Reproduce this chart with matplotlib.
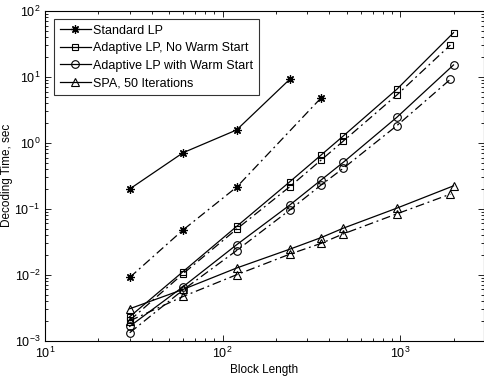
import matplotlib
matplotlib.use("Agg")
import matplotlib.pyplot as plt

plt.rcParams['font.family'] = ['Liberation Sans', 'DejaVu Sans']
plt.rcParams['mathtext.fontset'] = 'custom'
plt.rcParams['mathtext.rm'] = 'Liberation Sans'

# Standard LP
std_x_solid = [30, 60, 120, 240]
std_y_solid = [0.20, 0.71, 1.57, 9.3]
std_x_dash = [30, 60, 120, 360]
std_y_dash = [0.0091, 0.048, 0.213, 4.85]

# Adaptive LP, no warm start
blk_x_solid = [30, 60, 120, 240, 360, 480, 960, 2000]
blk_x_dash = [30, 60, 120, 240, 360, 480, 960, 1920]
alp_y_solid = [0.00231, 0.0112, 0.054, 0.259, 0.658, 1.28, 6.52, 46.9]
alp_y_dash = [0.00203, 0.0104, 0.0492, 0.218, 0.552, 1.07, 5.34, 30.5]

# Adaptive LP with warm start
aws_y_solid = [0.00165, 0.0066, 0.0285, 0.115, 0.275, 0.51, 2.45, 15.2]
aws_y_dash = [0.00132, 0.0059, 0.0233, 0.0966, 0.231, 0.414, 1.83, 9.2]

# SPA, 50 iterations
spa_y_solid = [0.00305, 0.0060, 0.01265, 0.0245, 0.0367, 0.051, 0.1025, 0.223]
spa_y_dash = [0.0020, 0.00469, 0.0100, 0.0206, 0.030, 0.0418, 0.084, 0.167]

labels = ["Standard LP", "Adaptive LP, No Warm Start",
          "Adaptive LP with Warm Start", "SPA, 50 Iterations"]

fig = plt.figure(figsize=(4.85, 3.76), dpi=100)
ax = fig.add_axes([45/485, 1-340.7/376, (484-45)/485, (340.7-11)/376])

lw = 0.9
dd = (0, (7, 3, 1.5, 3))
common = dict(color='black', lw=lw, mfc='none', mec='black', mew=0.8)
ast = (8, 2, 0)

ax.plot(std_x_solid, std_y_solid, '-', marker=ast, ms=6, color='black', lw=lw, mec='black', mew=0.9, label=labels[0])
ax.plot(std_x_dash, std_y_dash, linestyle=dd, marker=ast, ms=6, color='black', lw=lw, mec='black', mew=0.9)

ax.plot(blk_x_solid, alp_y_solid, '-', marker='s', ms=5, label=labels[1], **common)
ax.plot(blk_x_dash, alp_y_dash, linestyle=dd, marker='s', ms=5, **common)

ax.plot(blk_x_solid, aws_y_solid, '-', marker='o', ms=5.5, label=labels[2], **common)
ax.plot(blk_x_dash, aws_y_dash, linestyle=dd, marker='o', ms=5.5, **common)

ax.plot(blk_x_solid, spa_y_solid, '-', marker='^', ms=6, label=labels[3], **common)
ax.plot(blk_x_dash, spa_y_dash, linestyle=dd, marker='^', ms=6, **common)

ax.set_xscale('log')
ax.set_yscale('log')
ax.set_xlim(10, 2970)
ax.set_ylim(1e-3, 1e2)

ax.tick_params(which='both', direction='in', top=True, right=True, labelsize=9, width=0.6)
ax.tick_params(which='major', length=4)
ax.tick_params(which='minor', length=2)
for s in ax.spines.values():
    s.set_linewidth(0.8)

ax.set_xlabel("Block Length", fontsize=8.5, labelpad=2)
ax.set_ylabel("Decoding Time, sec", fontsize=8.5, labelpad=1)

leg = ax.legend(loc='upper left', fontsize=9, frameon=True, fancybox=False,
                edgecolor='black', borderpad=0.45, labelspacing=0.45,
                handlelength=2.5, handletextpad=0.2, borderaxespad=0,
                bbox_to_anchor=(0.0205, 0.976))
leg.get_frame().set_linewidth(0.8)

fig.savefig("out.png", dpi=100)
